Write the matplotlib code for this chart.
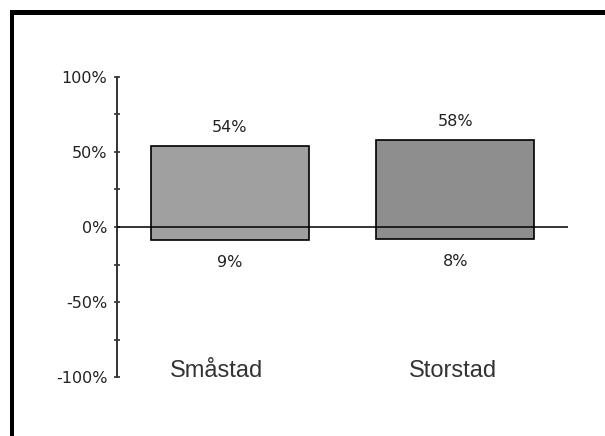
import matplotlib
matplotlib.use("Agg")
import matplotlib.pyplot as plt
from matplotlib.patches import Rectangle

# Share of respondents, positive (above zero) and negative (below zero)
categories = ["Småstad", "Storstad"]
positive = [54, 58]
negative = [9, 8]
bar_colors = ["#a0a0a0", "#8e8e8e"]
y_ticks = [-100, -50, 0, 50, 100]
y_tick_labels = ["-100%", "-50%", "0%", "50%", "100%"]
minor_ticks = [-75, -25, 25, 75]
label_nudge = [-0.057, -0.009]   # horizontal shift of the category names

W, H = 605, 436
fig = plt.figure(figsize=(W / 100, H / 100), dpi=100)
fig.patch.set_facecolor("white")

# Thick frame along the top and left edges
fig.add_artist(Rectangle((10 / W, (H - 15) / H), 1 - 10 / W, 5 / H,
                         transform=fig.transFigure, facecolor="black",
                         edgecolor="none"))
fig.add_artist(Rectangle((10 / W, 0), 4 / W, (H - 10) / H,
                         transform=fig.transFigure, facecolor="black",
                         edgecolor="none"))

ax = fig.add_axes([117 / W, (H - 377) / H, 451 / W, 300 / H])
ax.set_facecolor("none")

small = dict(fontsize=11.5, color="#222222", family="DejaVu Sans")

x = list(range(len(categories)))
for i in x:
    ax.bar(i, positive[i] + negative[i], bottom=-negative[i], width=0.70,
           color=bar_colors[i], edgecolor="black", linewidth=1.2, zorder=2)
    ax.text(i, positive[i] + 9.3, f"{positive[i]}%", ha="center",
            va="baseline", **small)
    ax.text(i, -negative[i] - 17.7, f"{negative[i]}%", ha="center",
            va="baseline", **small)
    ax.text(i + label_nudge[i], -100.3, categories[i], ha="center",
            va="baseline", fontsize=17, color="#333333",
            family="Liberation Sans")

# Zero line on top of the bars
ax.axhline(0, color="black", linewidth=1.1, zorder=3)

ax.set_xlim(-0.5, 1.5)
ax.set_ylim(-100, 100)
ax.set_xticks([])
ax.set_yticks(y_ticks)
ax.set_yticklabels(y_tick_labels, **small)
ax.set_yticks(minor_ticks, minor=True)
ax.tick_params(axis="y", which="both", direction="inout", length=5,
               width=1.2, color="#333333")
ax.tick_params(axis="y", which="major", pad=4.5)

for side in ["top", "right", "bottom"]:
    ax.spines[side].set_visible(False)
ax.spines["left"].set_color("#333333")
ax.spines["left"].set_linewidth(1.4)

fig.savefig("out.png", dpi=100)
